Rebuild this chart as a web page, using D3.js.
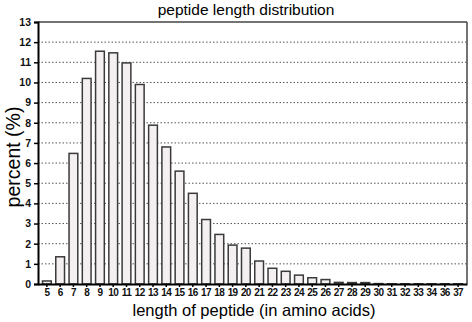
<!DOCTYPE html>
<html>
<head>
<meta charset="utf-8">
<script src="https://cdn.jsdelivr.net/npm/d3@7"></script>
<style>
  body { margin: 0; background: #fff; }
  text { font-family: "Liberation Sans", Arial, sans-serif; }
</style>
</head>
<body>
<div id="chart"></div>
<script>
// peptide lengths (35 is missing in the original axis)
var lengths = ['5','6','7','8','9','10','11','12','13','14','15','16','17','18','19','20',
               '21','22','23','24','25','26','27','28','29','30','31','32','33','34','36','37'];
var percents = [0.15, 1.35, 6.48, 10.2, 11.55, 11.47, 10.97, 9.9, 7.88, 6.8, 5.6, 4.5, 3.2, 2.46, 1.93, 1.78,
                1.14, 0.78, 0.63, 0.44, 0.31, 0.22, 0.08, 0.07, 0.07, 0.02, 0.01, 0.01, 0.01, 0.01, 0.01, 0.01];
var yTicks = d3.range(0, 14);

var svgwidth = 472, svgheight = 322;
var margin = {left: 38, top: 22, right: 5, bottom: 38};
var inner_width = svgwidth - margin.left - margin.right;
var inner_height = svgheight - margin.top - margin.bottom;

var svg = d3.select('#chart').append('svg')
            .attr('width', svgwidth)
            .attr('height', svgheight);
var g = svg.append('g')
           .attr('transform', 'translate(' + margin.left + ',' + margin.top + ')');

var xscale = d3.scaleBand().domain(lengths).range([0, inner_width]).padding(0.34);
var yscale = d3.scaleLinear().domain([0, 13]).range([inner_height, 0]);

// dotted grid
g.append('g')
  .selectAll('line')
  .data(yTicks.filter(d => d > 0 && d < 13))
  .join('line')
  .attr('x1', 0).attr('x2', inner_width)
  .attr('y1', d => yscale(d)).attr('y2', d => yscale(d))
  .attr('stroke', '#555')
  .attr('stroke-width', 1)
  .attr('stroke-dasharray', '1.5,2');

// frame top/right
g.append('line').attr('x1', 0).attr('x2', inner_width).attr('y1', 0).attr('y2', 0)
  .attr('stroke', '#444').attr('stroke-width', 1.5);
g.append('line').attr('x1', inner_width).attr('x2', inner_width).attr('y1', 0).attr('y2', inner_height)
  .attr('stroke', '#444').attr('stroke-width', 1.5);

// bars
g.append('g')
  .selectAll('rect')
  .data(lengths.map((l, i) => ({len: l, val: percents[i]})))
  .join('rect')
  .attr('x', d => xscale(d.len))
  .attr('y', d => yscale(d.val))
  .attr('width', xscale.bandwidth())
  .attr('height', d => inner_height - yscale(d.val))
  .attr('fill', '#f4eff1')
  .attr('stroke', '#3a3a3a')
  .attr('stroke-width', 1.5);

// axes
var yaxis = d3.axisLeft(yscale).tickValues(yTicks).tickSize(4).tickPadding(3);
var ya = g.append('g').call(yaxis);
ya.select('.domain').attr('stroke', '#000').attr('stroke-width', 2);
ya.selectAll('.tick line').attr('stroke', '#000').attr('stroke-width', 1.5);
ya.selectAll('text').style('font-size', '10.5px').style('font-weight', 'bold').attr('fill', '#111');

var xaxis = d3.axisBottom(xscale).tickSize(3).tickPadding(2).tickSizeOuter(0);
var xa = g.append('g').attr('transform', 'translate(0,' + inner_height + ')').call(xaxis);
xa.select('.domain').attr('stroke', '#000').attr('stroke-width', 2);
xa.selectAll('.tick line').attr('stroke', '#000').attr('stroke-width', 1.5);
xa.selectAll('text').style('font-size', '10px').style('font-weight', 'bold')
  .style('letter-spacing', '-0.6px').attr('fill', '#111');

// title and labels
svg.append('text')
   .attr('x', 246).attr('y', 15)
   .style('text-anchor', 'middle')
   .style('font-size', '15.5px')
   .text('peptide length distribution');

svg.append('text')
   .attr('x', 254).attr('y', 316)
   .style('text-anchor', 'middle')
   .style('font-size', '16.5px')
   .text('length of peptide (in amino acids)');

svg.append('text')
   .attr('transform', 'translate(20,157) rotate(-90)')
   .style('text-anchor', 'middle')
   .style('font-size', '19.5px')
   .text('percent (%)');
</script>
</body>
</html>
